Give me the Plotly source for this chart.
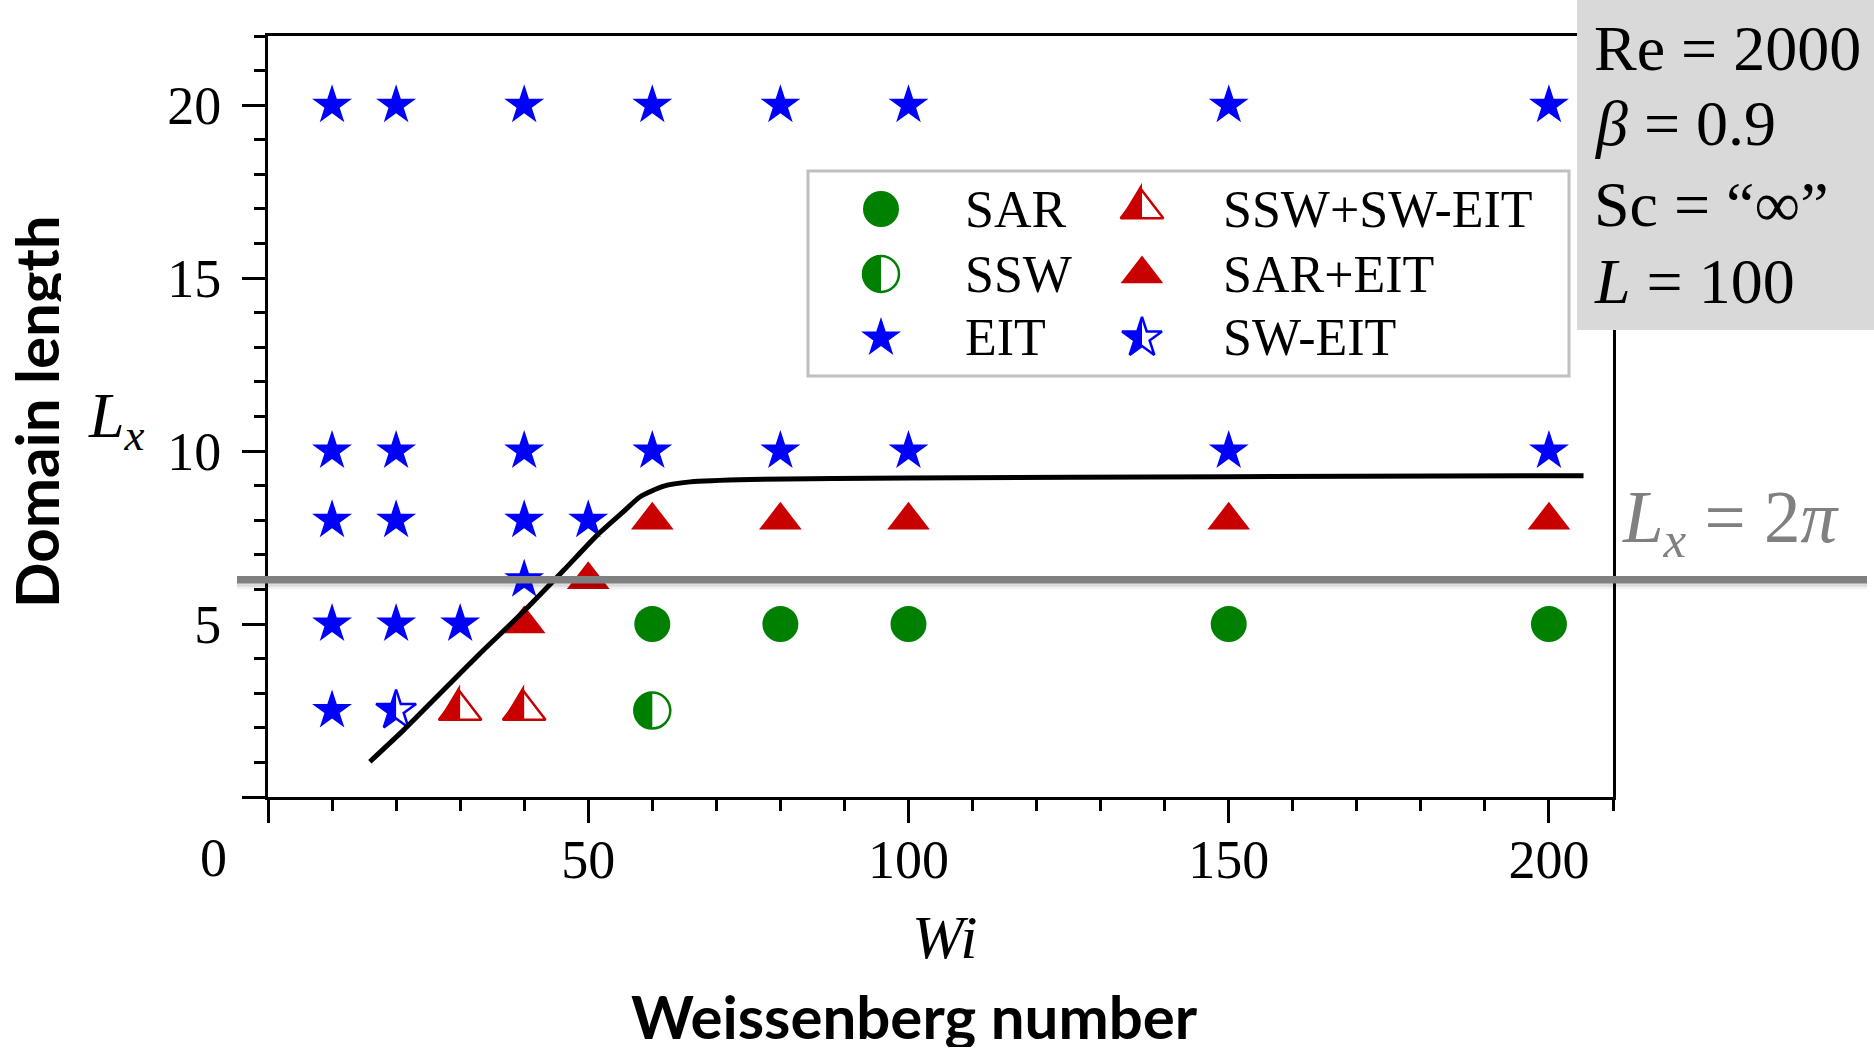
import math
import plotly.graph_objects as go

# ---------------- data ----------------
# EIT (filled stars)
eit_wi = [10, 20, 40, 60, 80, 100, 150, 200,
          10, 20, 40, 60, 80, 100, 150, 200,
          10, 20, 40, 50,
          40,
          10, 20, 30,
          10]
eit_lx = [20, 20, 20, 20, 20, 20, 20, 20,
          10, 10, 10, 10, 10, 10, 10, 10,
          8, 8, 8, 8,
          2 * math.pi,
          5, 5, 5,
          2.5]

# SAR (filled circles)
sar_wi = [60, 80, 100, 150, 200]
sar_lx = [5, 5, 5, 5, 5]

# SAR+EIT (filled triangles)
sareit_wi = [60, 80, 100, 150, 200, 50, 40]
sareit_lx = [8, 8, 8, 8, 8, 2 * math.pi, 5]

# SSW (half circles)
ssw_wi = [60]
ssw_lx = [2.5]

# SSW+SW-EIT (half triangles)
sswsw_wi = [30, 40]
sswsw_lx = [2.5, 2.5]

# SW-EIT (half stars)
sweit_wi = [20]
sweit_lx = [2.5]

# boundary curve
curve_wi = [15.9, 21.2, 26.9, 33.1, 39.9, 46.2, 51.4, 55.5, 58.1, 61.8, 65.9, 75.3, 100, 150, 205.4]
curve_lx = [1.02, 1.94, 3.0, 4.15, 5.36, 6.56, 7.57, 8.25, 8.68, 8.99, 9.11, 9.18, 9.22, 9.26, 9.29]

# reference length line
lx_ref = 2 * math.pi

x_ticks = [0, 50, 100, 150, 200]
x_ticktext = ["", "50", "100", "150", "200"]
y_ticks = [0, 5, 10, 15, 20]
y_ticktext = ["", "5", "10", "15", "20"]

legend_names = ["SAR", "SSW+SW-EIT", "SSW", "SAR+EIT", "EIT", "SW-EIT"]

# ---------------- styling ----------------
W, H = 1874, 1052
ML, MR, MT, MB = 268, 261, 36, 255
PW, PH = W - ML - MR, H - MT - MB

GREEN = "#008000"
RED = "#C80000"
BLUE = "#0000FF"
SERIF = "Liberation Serif"
SANS = "Lato"

S_STAR, S_CIRC, S_TRI = 30, 36, 37
OPEN_LW = 2.5


def px(X):
    return (X - ML) / PW


def py(Y):
    return (MT + PH - Y) / PH


# left-half fill paths (pixel units, y up) matching plotly's symbol geometry
def half_path(kind, size):
    r = size / 2.0
    if kind == "star":
        rs = r * 1.4
        pts = [(0, -rs), (-0.225 * rs, -0.309 * rs), (-0.951 * rs, -0.309 * rs),
               (-0.363 * rs, 0.118 * rs), (-0.588 * rs, 0.809 * rs), (0, 0.382 * rs)]
    elif kind == "triangle":
        rt = r * 2 / math.sqrt(3)
        pts = [(-rt, r / 2), (0, r / 2), (0, -r * math.sqrt(2))]
    else:
        pts = [(r * math.cos(math.radians(a)), r * math.sin(math.radians(a)))
               for a in range(90, 271, 6)]
    # svg symbol space has y down; shape pixel space has y up
    return "M " + " L ".join(f"{x:.2f},{-y:.2f}" for x, y in pts) + " Z"


fig = go.Figure()


def add_markers(xs, ys, symbol, size, color, filled, xa="x", ya="y"):
    fig.add_trace(go.Scatter(
        x=xs, y=ys, mode="markers", xaxis=xa, yaxis=ya,
        marker=dict(symbol=symbol, size=size,
                    color=color if filled else "rgba(0,0,0,0)",
                    line=dict(width=0 if filled else OPEN_LW, color=color)),
        showlegend=False, hoverinfo="skip", cliponaxis=False))


add_markers(eit_wi, eit_lx, "star", S_STAR, BLUE, True)
add_markers(sar_wi, sar_lx, "circle", S_CIRC, GREEN, True)
add_markers(sareit_wi, sareit_lx, "triangle-up", S_TRI, RED, True)
add_markers(ssw_wi, ssw_lx, "circle", S_CIRC, GREEN, False)
add_markers(sswsw_wi, sswsw_lx, "triangle-up", S_TRI, RED, False)
add_markers(sweit_wi, sweit_lx, "star", S_STAR, BLUE, False)

shapes = []


def add_half(xs, ys, kind, size, color, xref="x", yref="y"):
    for xv, yv in zip(xs, ys):
        shapes.append(dict(type="path", xref=xref, yref=yref,
                           xsizemode="pixel", ysizemode="pixel",
                           xanchor=xv, yanchor=yv, path=half_path(kind, size),
                           fillcolor=color, line=dict(width=0), layer="below"))


add_half(ssw_wi, ssw_lx, "circle", S_CIRC, GREEN)
add_half(sswsw_wi, sswsw_lx, "triangle", S_TRI, RED)
add_half(sweit_wi, sweit_lx, "star", S_STAR, BLUE)

# boundary curve
fig.add_trace(go.Scatter(x=curve_wi, y=curve_lx, mode="lines",
                         line=dict(color="black", width=5, shape="spline", smoothing=0.6),
                         showlegend=False, hoverinfo="skip"))

# ---------------- legend (drawn on a pixel-scaled overlay) ----------------
LEG_BOX = (808, 171, 1569, 376)
leg_col_marker = [881, 1142]
leg_col_text = [963, 1221]
leg_rows = [209, 274, 338]
leg_styles = [("circle", S_CIRC, GREEN, True), ("triangle-up", S_TRI, RED, False),
              ("circle", S_CIRC, GREEN, False), ("triangle-up", S_TRI, RED, True),
              ("star", S_STAR, BLUE, True), ("star", S_STAR, BLUE, False)]

shapes.insert(0, dict(type="rect", xref="x2", yref="y2",
                      x0=LEG_BOX[0], y0=LEG_BOX[1], x1=LEG_BOX[2], y1=LEG_BOX[3],
                      line=dict(color="#C0C0C0", width=3), fillcolor="rgba(0,0,0,0)",
                      layer="below"))

annotations = []
for i, (name, (sym, size, color, filled)) in enumerate(zip(legend_names, leg_styles)):
    row, col = i // 2, i % 2
    mx, my = leg_col_marker[col], leg_rows[row]
    add_markers([mx], [my], sym, size, color, filled, xa="x2", ya="y2")
    if not filled:
        kind = {"circle": "circle", "triangle-up": "triangle", "star": "star"}[sym]
        add_half([mx], [my], kind, size, color, xref="x2", yref="y2")
    annotations.append(dict(x=px(leg_col_text[col]), y=py(my), text=name,
                            xanchor="left",
                            font=dict(family=SERIF, size=52, color="black")))

# ---------------- reference line Lx = 2π ----------------
for off, alpha in [(-7, 0.05), (-4.5, 0.10)]:
    shapes.append(dict(type="line", xref="paper", yref="y", ysizemode="pixel",
                       yanchor=lx_ref, x0=px(237), x1=px(1867), y0=off, y1=off,
                       line=dict(color=f"rgba(0,0,0,{alpha})", width=5), layer="above"))
shapes.append(dict(type="line", xref="paper", yref="y", x0=px(237), x1=px(1867),
                   y0=lx_ref, y1=lx_ref, line=dict(color="#808080", width=7.5), layer="above"))

# ---------------- parameter box ----------------
shapes.append(dict(type="rect", xref="paper", yref="paper",
                   x0=px(1577), x1=px(1880), y0=py(330), y1=py(-5),
                   fillcolor="#D9D9D9", line=dict(width=0), layer="above"))
box_lines = ["Re = 2000", "<i>β</i> = 0.9", "Sc = “∞”", "<i>L</i> = 100"]
box_rows = [49, 124, 204, 281]
for t, yy in zip(box_lines, box_rows):
    annotations.append(dict(x=px(1592), y=py(yy), text=t, xanchor="left",
                            font=dict(family=SERIF, size=64, color="black")))

# ---------------- text labels ----------------
annotations += [
    dict(x=px(1620), y=py(522), text="<i>L</i><sub><i>x</i></sub> = 2<i>π</i>",
         font=dict(family=SERIF, size=73, color="#808080"), xanchor="left"),
    dict(x=px(213), y=py(858), text="0", font=dict(family=SERIF, size=54, color="black")),
    dict(x=px(36), y=py(412), text="<b>Domain length</b>", textangle=-90, height=50,
         font=dict(family=SANS, size=60, color="black")),
    dict(x=px(116), y=py(420), text="<i>L</i><sub><i>x</i></sub>",
         font=dict(family=SERIF, size=64, color="black")),
    dict(x=px(944), y=py(937), text="<i>Wi</i>",
         font=dict(family=SERIF, size=62, color="black")),
    dict(x=px(914), y=py(1016), text="<b>Weissenberg number</b>", height=62,
         font=dict(family=SANS, size=60, color="black")),
]
for a in annotations:
    a.setdefault("xref", "paper")
    a.setdefault("yref", "paper")
    a.setdefault("showarrow", False)
    a.setdefault("yanchor", "middle")
    a.setdefault("xanchor", "center")

axis_common = dict(showline=True, linewidth=3, linecolor="black", mirror=True,
                   showgrid=False, zeroline=False, ticks="outside", ticklen=23,
                   tickwidth=3, tickcolor="black",
                   tickfont=dict(family=SERIF, size=54, color="black"))

fig.update_layout(
    width=W, height=H, margin=dict(l=ML, r=MR, t=MT, b=MB),
    paper_bgcolor="white", plot_bgcolor="white", showlegend=False,
    xaxis=dict(range=[0, 210], tickvals=x_ticks, ticktext=x_ticktext,
               minor=dict(dtick=10, tick0=0, ticklen=11, tickwidth=3, ticks="outside",
                          tickcolor="black"),
               ticklabelstandoff=-10, **axis_common),
    yaxis=dict(range=[0, 22], tickvals=y_ticks, ticktext=y_ticktext,
               minor=dict(dtick=1, tick0=0, ticklen=11, tickwidth=3, ticks="outside",
                          tickcolor="black"),
               ticklabelstandoff=10, **axis_common),
    xaxis2=dict(overlaying="x", range=[ML, ML + PW], visible=False),
    yaxis2=dict(overlaying="y", range=[MT + PH, MT], visible=False),
    shapes=shapes, annotations=annotations,
)

fig.write_html("out.html")
